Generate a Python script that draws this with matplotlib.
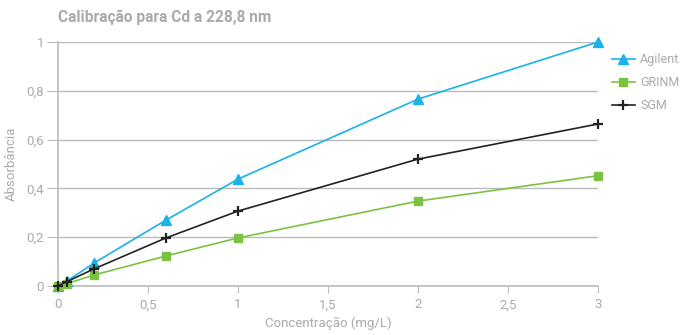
import matplotlib

matplotlib.use("Agg")
import matplotlib.pyplot as plt
from matplotlib.ticker import FuncFormatter

conc = [0, 0.05, 0.2, 0.6, 1, 2, 3]
agilent = [0, 0.02, 0.094, 0.27, 0.438, 0.766, 1.0]
grinm = [0, 0.01, 0.045, 0.123, 0.197, 0.348, 0.452]
sgm = [0, 0.018, 0.07, 0.197, 0.307, 0.52, 0.664]

GRAY = "#aaaaaa"
plt.rcParams.update({"font.family": ["Roboto", "DejaVu Sans"], "font.size": 9.5})

fig = plt.figure(figsize=(6.86, 3.35), dpi=100)
ax = fig.add_axes([0.0845, 0.1463, 0.7872, 0.7283])

ax.plot(conc, agilent, color="#1ab2e8", marker="^", ms=7, lw=1.2, label="Agilent", clip_on=False, zorder=3)
ax.plot(conc, grinm, color="#7cc242", marker="s", ms=6, lw=1.2, label="GRINM", clip_on=False, zorder=3)
ax.plot(conc, sgm, color="#222222", marker="+", ms=7, mew=1.6, lw=1.2, label="SGM", clip_on=False, zorder=4)

ax.set_xlim(0, 3)
ax.set_ylim(0, 1)
ax.set_xticks([0, 0.5, 1, 1.5, 2, 2.5, 3])
ax.set_yticks([0, 0.2, 0.4, 0.6, 0.8, 1])
fmt = FuncFormatter(lambda v, _: f"{v:g}".replace(".", ","))
ax.xaxis.set_major_formatter(fmt)
ax.yaxis.set_major_formatter(fmt)
ax.grid(axis="y", color="#bbbbbb", lw=1)
ax.set_axisbelow(True)
for s in ("top", "right"):
    ax.spines[s].set_visible(False)
for s in ("left", "bottom"):
    ax.spines[s].set_color("#bbbbbb")
    ax.spines[s].set_linewidth(1.2)
ax.tick_params(axis="x", colors="#bbbbbb", labelcolor=GRAY, length=5, pad=4)
ax.tick_params(axis="y", colors="#bbbbbb", labelcolor=GRAY, length=8, pad=2)

ax.set_xlabel("Concentração (mg/L)", color=GRAY, labelpad=4)
ax.set_ylabel("Absorbância", color=GRAY)
ax.yaxis.set_label_coords(-0.075, 0.5)
fig.text(0.0845, 0.925, "Calibração para Cd a 228,8 nm", color=GRAY, fontsize=11.2,
         fontweight="bold", va="bottom")

leg = ax.legend(loc="upper left", bbox_to_anchor=(1.01, 0.99), frameon=False, fontsize=9,
                handlelength=1.8, handletextpad=0.45, labelspacing=0.8, borderaxespad=0.3)
for t in leg.get_texts():
    t.set_color(GRAY)

fig.savefig("out.png", dpi=100)
